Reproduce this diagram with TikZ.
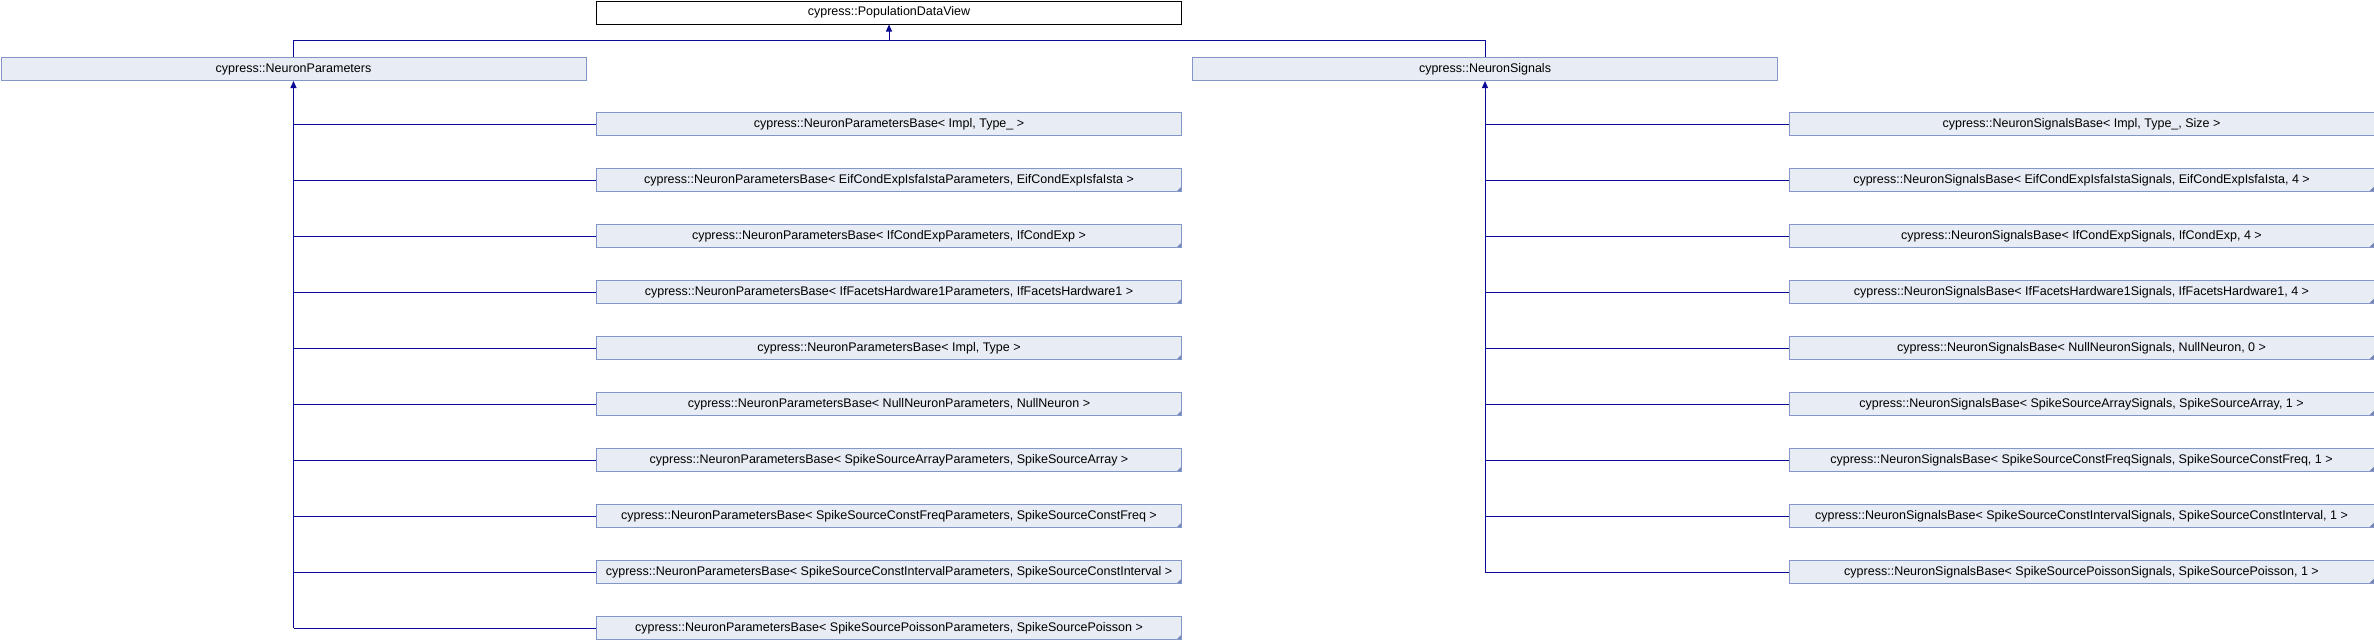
\documentclass[tikz,border=0pt]{standalone}
\usepackage{fontspec}
\setmainfont{Liberation Sans}
\usetikzlibrary{arrows.meta}
\definecolor{boxfill}{HTML}{E8ECF4}
\definecolor{boxline}{HTML}{8496C8}
\definecolor{edgecol}{HTML}{0A0A96}
\tikzset{
  cls/.style={draw=boxline, fill=boxfill, line width=1pt, inner sep=0pt,
    minimum width=585pt, minimum height=23pt, anchor=north west,
    font=\fontsize{12.5pt}{14pt}\selectfont},
  topcls/.style={cls, draw=black, fill=white},
  tmpl/.style={cls, path picture={\fill[boxline!90!black]
    (path picture bounding box.south east) -- ++(-5pt,0pt) -- ++(5pt,5pt) -- cycle;}},
  edge/.style={draw=edgecol, line width=1pt},
  inh/.style={edge, -{Triangle[width=6pt,length=7pt]}}
}
\begin{document}
\begin{tikzpicture}[x=1pt,y=-1pt]
\useasboundingbox (0,0) rectangle (2374,640);
\node[topcls] (pdv) at (596,0.5) {cypress::PopulationDataView};
\node[cls] (np) at (0.5,57) {cypress::NeuronParameters};
\node[cls] (ns) at (1192,57) {cypress::NeuronSignals};
% left children
\node[cls] (c0) at (596,112) {cypress::NeuronParametersBase<\ Impl, Type\_ >};
\foreach \i/\t in {
  1/{EifCondExpIsfaIstaParameters, EifCondExpIsfaIsta},
  2/{IfCondExpParameters, IfCondExp},
  3/{IfFacetsHardware1Parameters, IfFacetsHardware1},
  4/{Impl, Type},
  5/{NullNeuronParameters, NullNeuron},
  6/{SpikeSourceArrayParameters, SpikeSourceArray},
  7/{SpikeSourceConstFreqParameters, SpikeSourceConstFreq},
  8/{SpikeSourceConstIntervalParameters, SpikeSourceConstInterval},
  9/{SpikeSourcePoissonParameters, SpikeSourcePoisson}}
  \node[tmpl] (c\i) at (596,112+56*\i) {cypress::NeuronParametersBase<\ \t\ >};
% right children
\node[cls] (s0) at (1788.5,112) {cypress::NeuronSignalsBase<\ Impl, Type\_, Size >};
\foreach \i/\t in {
  1/{EifCondExpIsfaIstaSignals, EifCondExpIsfaIsta, 4},
  2/{IfCondExpSignals, IfCondExp, 4},
  3/{IfFacetsHardware1Signals, IfFacetsHardware1, 4},
  4/{NullNeuronSignals, NullNeuron, 0},
  5/{SpikeSourceArraySignals, SpikeSourceArray, 1},
  6/{SpikeSourceConstFreqSignals, SpikeSourceConstFreq, 1},
  7/{SpikeSourceConstIntervalSignals, SpikeSourceConstInterval, 1},
  8/{SpikeSourcePoissonSignals, SpikeSourcePoisson, 1}}
  \node[tmpl] (s\i) at (1788.5,112+56*\i) {cypress::NeuronSignalsBase<\ \t\ >};
% top connectors
\coordinate (bus) at (pdv.south |- 0,40.5);
\draw[edge] (np.north) |- (bus) -| (ns.north);
\draw[inh] (bus) -- (pdv.south);
% left connectors
\draw[inh] (c9.west -| np.south) -- (np.south);
\foreach \i in {0,...,9} \draw[edge] (c\i.west) -- (c\i.west -| np.south);
% right connectors
\draw[inh] (s8.west -| ns.south) -- (ns.south);
\foreach \i in {0,...,8} \draw[edge] (s\i.west) -- (s\i.west -| ns.south);
\end{tikzpicture}
\end{document}
